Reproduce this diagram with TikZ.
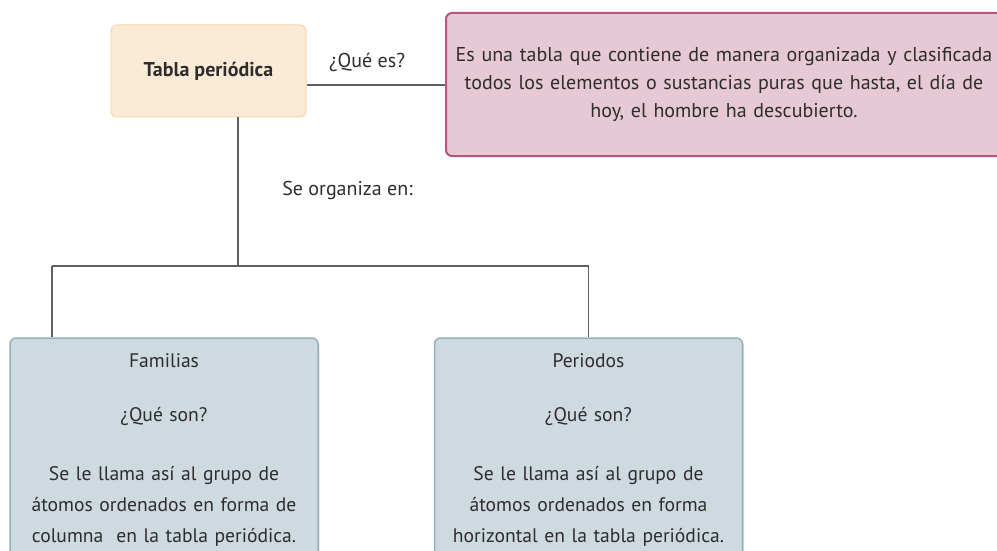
\documentclass[tikz,border=0pt]{standalone}
\usepackage{fontspec}
\setmainfont{PT Sans}
\usetikzlibrary{shadows}
\definecolor{tablafill}{RGB}{251,235,214}
\definecolor{tabladraw}{RGB}{244,214,172}
\definecolor{deffill}{RGB}{230,201,212}
\definecolor{defdraw}{RGB}{183,84,127}
\definecolor{groupfill}{RGB}{207,218,224}
\definecolor{groupdraw}{RGB}{150,176,190}
\definecolor{linegray}{RGB}{95,95,95}
\definecolor{textgray}{RGB}{45,45,45}
\begin{document}
\begin{tikzpicture}[x=1pt, y=-1pt,
    conn/.style={draw=linegray, line width=1.8pt},
    tablabox/.style={rectangle, rounded corners=6pt, fill=tablafill, draw=tabladraw, line width=1pt,
        minimum width=195pt, minimum height=92pt, inner sep=0pt, text=textgray,
        font=\fontsize{20}{24}\selectfont\bfseries},
    defbox/.style={rectangle, rounded corners=6pt, fill=deffill, draw=defdraw, line width=2pt,
        minimum width=556pt, minimum height=143pt, text width=548pt, align=center, inner sep=0pt,
        text=textgray, font=\fontsize{20}{28}\selectfont},
    groupbox/.style={rectangle, rounded corners=6pt, fill=groupfill, draw=groupdraw, line width=1.5pt,
        drop shadow={opacity=0.25, shadow xshift=1.5pt, shadow yshift=-1.5pt},
        minimum width=308pt, minimum height=224pt, text width=300pt, align=center, inner sep=0pt,
        text=textgray, font=\fontsize{19.6}{31}\selectfont},
    lbl/.style={text=textgray, font=\fontsize{20}{24}\selectfont}]
\useasboundingbox (0,0) rectangle (997,551);
\clip (0,0) rectangle (997,551);
% main nodes
\node[tablabox] (tabla) at (208.5,71) {Tabla periódica};
\node[defbox] (def) at (724,84.5) {Es una tabla que contiene de manera organizada y clasificada\\
    todos los elementos o sustancias puras que hasta, el día de\\
    hoy, el hombre ha descubierto.};
\node[groupbox] (familias) at (164,450) {Familias\\[23pt]
    ¿Qué son?\\[28pt]
    Se le llama así al grupo de\\
    átomos ordenados en forma de\\
    columna\ \ en la tabla periódica.};
\node[groupbox] (periodos) at (588.5,450) {Periodos\\[23pt]
    ¿Qué son?\\[28pt]
    Se le llama así al grupo de\\
    átomos ordenados en forma\\
    horizontal en la tabla periódica.};
% labels
\node[lbl] (quees) at (367,62) {¿Qué es?};
\node[lbl] (organiza) at (347.5,190) {Se organiza en:};
% connectors
\coordinate (tablaout) at ([yshift=-14pt]tabla.east);
\coordinate (tabladown) at ([xshift=29.5pt]tabla.south);
\coordinate (split) at (238,266);
\coordinate (famtop) at (52,266);
\coordinate (pertop) at (588.5,266);
\draw[conn] (tablaout) -- (def.west |- tablaout);
\draw[conn] (tabladown) -- (split);
\draw[conn] (famtop) -- (pertop);
\draw[conn] (famtop) -- (famtop |- familias.north);
\draw[conn] (pertop) -- (periodos.north);
\end{tikzpicture}
\end{document}
